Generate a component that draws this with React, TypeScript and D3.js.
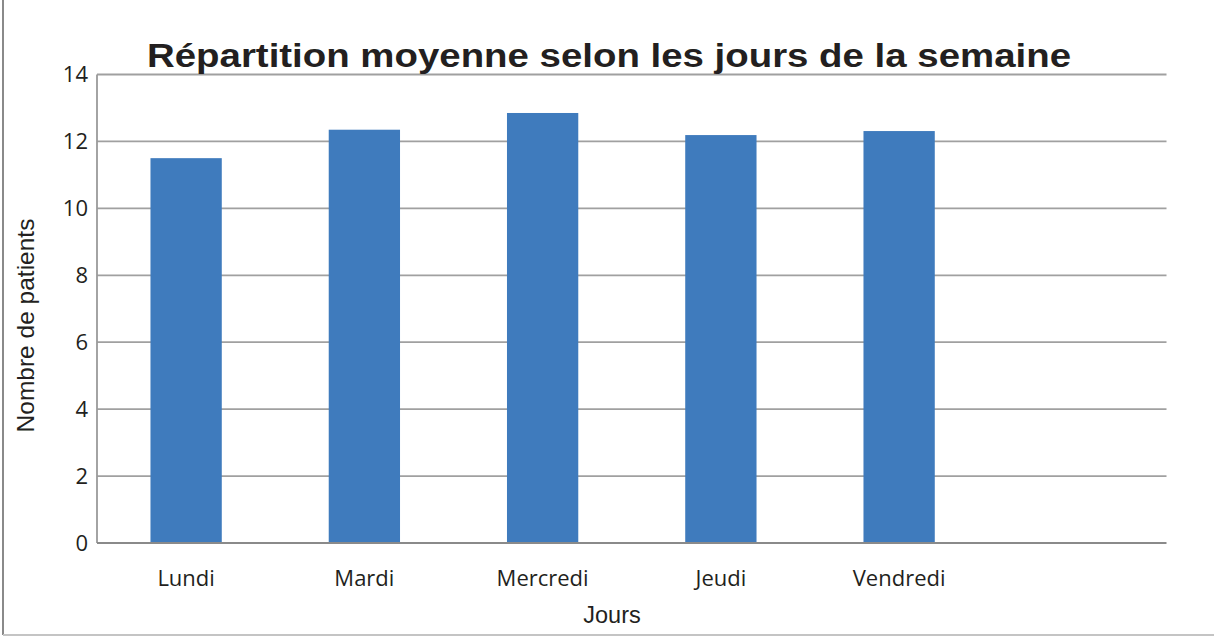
import React, { useEffect, useRef } from 'react';
import * as d3 from 'd3';

// data
const days = ['Lundi', 'Mardi', 'Mercredi', 'Jeudi', 'Vendredi', ''];
const patients = [11.5, 12.35, 12.85, 12.19, 12.31];
const yTicks = [0, 2, 4, 6, 8, 10, 12, 14];

const W = 1214;
const H = 636;

function drawChart(node: SVGSVGElement) {
  const svg = d3.select(node);
  svg.selectAll('*').remove();

  const margin = { top: 74.5, right: 47.5, bottom: 93, left: 97 };
  const labelFont = '"Open Sans", Lato, sans-serif';
  const arial = '"Liberation Sans", Arial, sans-serif';

  // frame of the figure (only left and bottom show)
  svg.append('line')
    .attr('x1', 3).attr('x2', 3).attr('y1', 0).attr('y2', 635)
    .attr('stroke', '#8a8a8a').attr('stroke-width', 2);
  svg.append('line')
    .attr('x1', 3).attr('x2', W).attr('y1', 635).attr('y2', 635)
    .attr('stroke', '#c4c4c4').attr('stroke-width', 2);

  const x = d3.scaleBand()
    .domain(days.map((d, i) => String(i)))
    .range([margin.left, W - margin.right])
    .paddingInner(0.6)
    .paddingOuter(0.3);

  const y = d3.scaleLinear()
    .domain([0, 14])
    .range([H - margin.bottom, margin.top]);

  // gridlines
  svg.append('g')
    .selectAll('line')
    .data(yTicks.filter(t => t > 0))
    .join('line')
    .attr('x1', margin.left)
    .attr('x2', W - margin.right)
    .attr('y1', d => y(d))
    .attr('y2', d => y(d))
    .attr('stroke', '#a0a0a0')
    .attr('stroke-width', 1.8);

  // bars
  svg.append('g')
    .selectAll('rect')
    .data(patients)
    .join('rect')
    .attr('x', (d, i) => x(String(i))!)
    .attr('y', d => y(d))
    .attr('width', x.bandwidth())
    .attr('height', d => y(0) - y(d))
    .attr('fill', '#3f7bbd');

  // axes lines
  svg.append('line')
    .attr('x1', margin.left).attr('x2', margin.left)
    .attr('y1', y(14)).attr('y2', y(0))
    .attr('stroke', '#9a9a9a').attr('stroke-width', 1.8);
  svg.append('line')
    .attr('x1', margin.left).attr('x2', W - margin.right)
    .attr('y1', y(0)).attr('y2', y(0))
    .attr('stroke', '#8a8a8a').attr('stroke-width', 2);

  // y tick labels
  svg.append('g')
    .selectAll('text')
    .data(yTicks)
    .join('text')
    .attr('x', 88)
    .attr('y', d => y(d))
    .attr('dy', '0.36em')
    .attr('text-anchor', 'end')
    .attr('font-family', labelFont)
    .attr('font-size', 22)
    .attr('fill', '#231f20')
    .text(d => d);

  // x labels
  svg.append('g')
    .selectAll('text')
    .data(days)
    .join('text')
    .attr('x', (d, i) => x(String(i))! + x.bandwidth() / 2)
    .attr('y', 586)
    .attr('text-anchor', 'middle')
    .attr('font-family', labelFont)
    .attr('font-size', 22)
    .attr('fill', '#231f20')
    .text(d => d);

  // axis titles
  svg.append('text')
    .attr('x', 612)
    .attr('y', 623)
    .attr('text-anchor', 'middle')
    .attr('font-family', arial)
    .attr('font-size', 23.5)
    .attr('fill', '#231f20')
    .text('Jours');

  svg.append('text')
    .attr('transform', 'translate(34,325.5) rotate(-90)')
    .attr('text-anchor', 'middle')
    .attr('font-family', arial)
    .attr('font-size', 24.5)
    .attr('fill', '#231f20')
    .text('Nombre de patients');

  // title
  svg.append('text')
    .attr('x', 609)
    .attr('y', 67)
    .attr('text-anchor', 'middle')
    .attr('font-family', arial)
    .attr('font-weight', 'bold')
    .attr('font-size', 34)
    .attr('textLength', 924)
    .attr('lengthAdjust', 'spacingAndGlyphs')
    .attr('fill', '#231f20')
    .text('Répartition moyenne selon les jours de la semaine');
}

export default function App() {
  const ref = useRef<SVGSVGElement>(null);

  useEffect(() => {
    if (ref.current) drawChart(ref.current);
  }, []);

  return (
    <svg
      ref={ref}
      width={W}
      height={H}
      style={{ position: 'absolute', left: 0, top: 0, display: 'block', background: '#fff' }}
    />
  );
}
